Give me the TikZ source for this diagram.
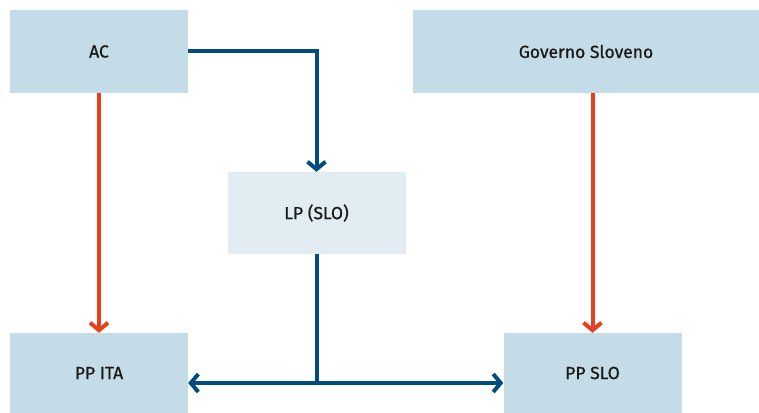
\documentclass[tikz,border=0pt]{standalone}
\usepackage{fontspec}
\setmainfont{Fira Sans}[FakeBold=0.7]
\usetikzlibrary{arrows.meta,calc}
\definecolor{boxblue}{HTML}{C3DCE8}
\definecolor{boxlight}{HTML}{E1ECF3}
\definecolor{lineblue}{HTML}{004B80}
\definecolor{linered}{HTML}{E8401C}
\begin{document}
\begin{tikzpicture}[x=1pt,y=-1pt,
  box/.style={fill=boxblue,draw=none,minimum width=178pt,minimum height=82pt,inner sep=0pt,font=\fontsize{17.5}{21}\selectfont,text=black!90},
  lightbox/.style={box,fill=boxlight},
  tip/.style={-{Straight Barb[length=7.5pt,width=18pt]}},
  blueline/.style={draw=lineblue,line width=4pt},
  redline/.style={draw=linered,line width=4pt}]
\useasboundingbox (0,0) rectangle (759,412);
\node[box] (ac) at (99,51.5) {AC};
\node[box,minimum width=346pt] (gov) at (586,51.5) {Governo Sloveno};
\node[lightbox] (lp) at (316.5,213) {LP (SLO)};
\node[box,minimum height=80pt] (ppita) at (99,373) {PP ITA};
\node[box,minimum height=80pt] (ppslo) at (592.5,373) {PP SLO};
\coordinate (junc) at (316.5,383);
\draw[blueline,tip] (ac.east) -| (lp.north);
\draw[blueline] (lp.south) -- ([yshift=2pt]junc);
\draw[blueline,tip] (junc) -- (ppita.east |- junc);
\draw[blueline,tip] (junc) -- (ppslo.west |- junc);
\draw[redline,tip] (ac.south) -- (ppita.north);
\draw[redline,tip] (ppslo.north |- gov.south) -- (ppslo.north);
\end{tikzpicture}
\end{document}
